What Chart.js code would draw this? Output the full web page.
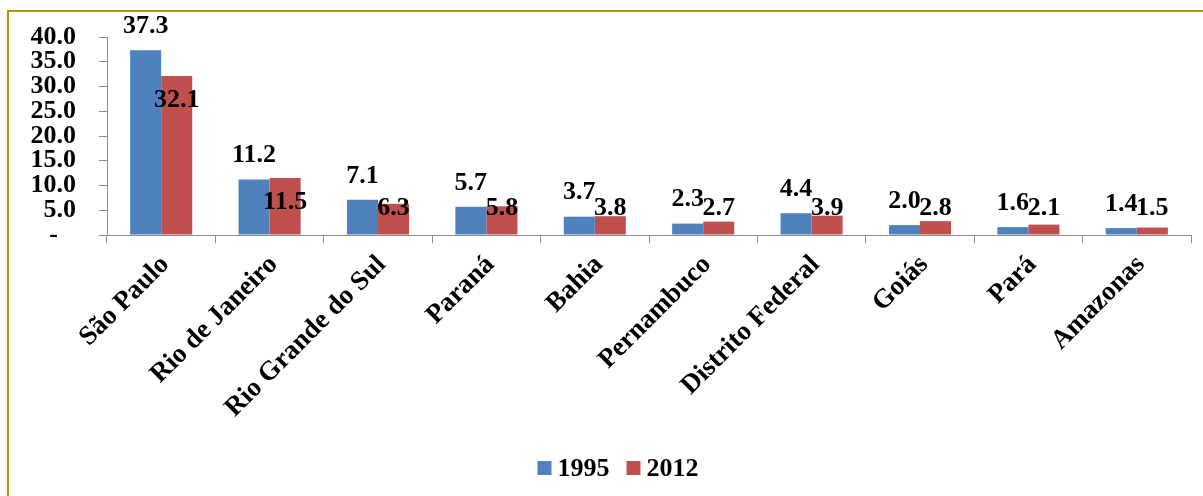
<!DOCTYPE html>
<html>
<head>
<meta charset="utf-8">
<script src="https://cdn.jsdelivr.net/npm/chart.js@4/dist/chart.umd.min.js"></script>
<style>
  html, body { margin: 0; padding: 0; background: #ffffff; overflow: hidden; }
  #wrap { position: relative; width: 1203px; height: 496px; overflow: hidden; }
  #frame {
    position: absolute; left: 7px; top: 10px; width: 1400px; height: 700px;
    border-left: 2px solid #B8900A; border-top: 2px solid #B8900A;
  }
  #c { position: absolute; left: 0; top: 0; }
</style>
</head>
<body>
<div id="wrap">
  <div id="frame"></div>
  <canvas id="c" width="1203" height="496"></canvas>
</div>
<script>
// States and their share (%) in 1995 and 2012
const states = ['São Paulo', 'Rio de Janeiro', 'Rio Grande do Sul', 'Paraná', 'Bahia',
                'Pernambuco', 'Distrito Federal', 'Goiás', 'Pará', 'Amazonas'];
const shares1995 = [37.3, 11.2, 7.1, 5.7, 3.7, 2.3, 4.4, 2.0, 1.6, 1.4];
const shares2012 = [32.1, 11.5, 6.3, 5.8, 3.8, 2.7, 3.9, 2.8, 2.1, 1.5];
const seriesNames = ['1995', '2012'];
const seriesColors = ['#4F81BD', '#C0504D'];
const yTicks = [0, 5, 10, 15, 20, 25, 30, 35, 40];

const SERIF = '"Liberation Serif", "Times New Roman", serif';
const AXIS_GREY = '#8C8C8C';

// Value labels: 1995 above its bar, 2012 just inside the top of its bar
const valueLabels = {
  id: 'valueLabels',
  afterDatasetsDraw(chart) {
    const ctx = chart.ctx;
    const base = chart.scales.y.getPixelForValue(0);
    ctx.save();
    ctx.font = 'bold 26px ' + SERIF;
    ctx.fillStyle = '#000';
    ctx.textAlign = 'center';
    ctx.textBaseline = 'middle';
    chart.data.datasets.forEach((ds, i) => {
      chart.getDatasetMeta(i).data.forEach((bar, j) => {
        const v = ds.data[j];
        const y = i === 0 ? bar.y - 24 : Math.min(bar.y + 24, base - 27);
        ctx.fillText(v.toFixed(1), bar.x, y);
      });
    });
    ctx.restore();
  }
};

// Legend row under the category labels
const bottomLegend = {
  id: 'bottomLegend',
  afterDraw(chart) {
    const ctx = chart.ctx;
    ctx.save();
    ctx.font = 'bold 26px ' + SERIF;
    ctx.textBaseline = 'middle';
    const box = 14, gapText = 6, gapItem = 17, cy = 468;
    const items = chart.data.datasets.map(ds => ({ label: ds.label, color: ds.backgroundColor }));
    let total = 0;
    items.forEach((it, k) => {
      it.w = ctx.measureText(it.label).width;
      total += box + gapText + it.w + (k < items.length - 1 ? gapItem : 0);
    });
    let x = 618 - total / 2;
    items.forEach(it => {
      ctx.fillStyle = it.color;
      ctx.fillRect(x, cy - box / 2, box, box);
      x += box + gapText;
      ctx.fillStyle = '#000';
      ctx.textAlign = 'left';
      ctx.fillText(it.label, x, cy + 1);
      x += it.w + gapItem;
    });
    ctx.restore();
  }
};

new Chart(document.getElementById('c'), {
  type: 'bar',
  data: {
    labels: states,
    datasets: [
      { label: seriesNames[0], data: shares1995, backgroundColor: seriesColors[0] },
      { label: seriesNames[1], data: shares2012, backgroundColor: seriesColors[1] }
    ]
  },
  options: {
    responsive: false,
    animation: false,
    devicePixelRatio: 1,
    layout: { padding: { top: 37, right: 12, left: 0, bottom: 0 } },
    datasets: { bar: { categoryPercentage: 0.573, barPercentage: 1.0 } },
    plugins: {
      legend: { display: false },
      tooltip: { enabled: false },
      title: { display: false }
    },
    scales: {
      x: {
        grid: {
          display: true, drawOnChartArea: false, drawTicks: true,
          tickLength: 8, offset: true, color: AXIS_GREY
        },
        border: { display: true, color: AXIS_GREY, width: 1 },
        ticks: {
          color: '#000',
          font: { family: SERIF, size: 27, weight: 'bold' },
          minRotation: 45, maxRotation: 45,
          autoSkip: false, padding: 6, labelOffset: 4
        },
        afterFit(scale) { scale.height = 261; }
      },
      y: {
        min: 0, max: 40,
        afterBuildTicks(scale) { scale.ticks = yTicks.map(v => ({ value: v })); },
        grid: {
          display: true, drawOnChartArea: false, drawTicks: true,
          tickLength: 8, color: AXIS_GREY
        },
        border: { display: true, color: AXIS_GREY, width: 1 },
        ticks: {
          color: '#000',
          font: { family: SERIF, size: 26, weight: 'bold', lineHeight: 1 },
          autoSkip: false,
          padding: 23,
          callback: v => (v === 0 ? '-\u2002\u2009' : Number(v).toFixed(1))
        },
        afterFit(scale) { scale.width = 107; }
      }
    }
  },
  plugins: [valueLabels, bottomLegend]
});
</script>
</body>
</html>
